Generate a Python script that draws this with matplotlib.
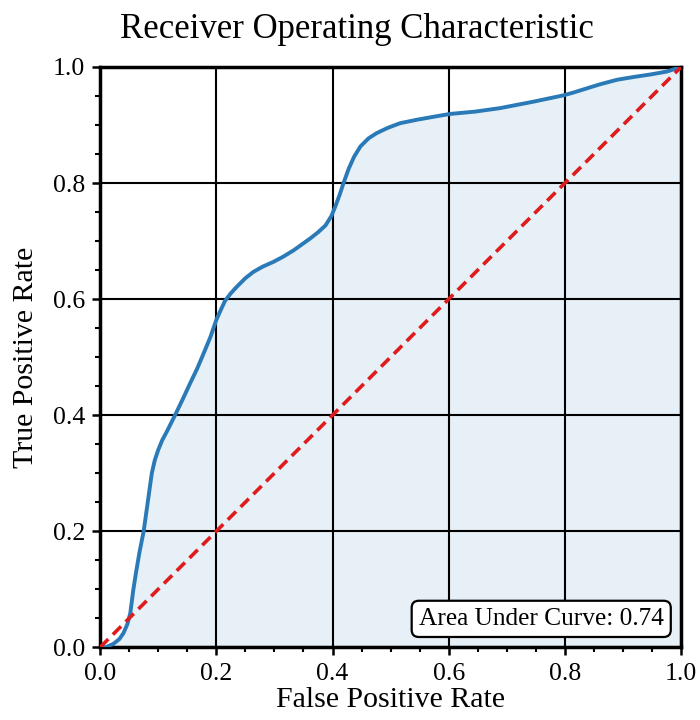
import matplotlib
matplotlib.use("Agg")
import matplotlib.pyplot as plt
from matplotlib.ticker import MultipleLocator

# ROC curve points (false positive rate, true positive rate)
fpr = [0, 0.01, 0.023, 0.033, 0.04, 0.047, 0.052, 0.057, 0.062, 0.068, 0.075,
       0.082, 0.089, 0.094, 0.1, 0.107, 0.115, 0.122, 0.129, 0.142, 0.155,
       0.167, 0.178, 0.19, 0.2, 0.208, 0.215, 0.225, 0.235, 0.25, 0.264,
       0.28, 0.298, 0.315, 0.333, 0.347, 0.361, 0.375, 0.388, 0.398, 0.405,
       0.412, 0.419, 0.428, 0.437, 0.448, 0.462, 0.476, 0.495, 0.516, 0.545,
       0.573, 0.602, 0.645, 0.688, 0.745, 0.797, 0.815, 0.831, 0.86, 0.89,
       0.92, 0.947, 0.975, 1.0]
tpr = [0, 0.0, 0.006, 0.014, 0.024, 0.04, 0.059, 0.098, 0.13, 0.165, 0.2,
       0.25, 0.30, 0.322, 0.34, 0.357, 0.372, 0.386, 0.40, 0.427, 0.455,
       0.48, 0.506, 0.535, 0.564, 0.582, 0.597, 0.61, 0.621, 0.636, 0.647,
       0.656, 0.664, 0.673, 0.684, 0.694, 0.704, 0.715, 0.727, 0.743, 0.76,
       0.779, 0.80, 0.825, 0.845, 0.863, 0.877, 0.886, 0.895, 0.903, 0.909,
       0.914, 0.919, 0.923, 0.929, 0.940, 0.951, 0.956, 0.961, 0.970, 0.978,
       0.983, 0.987, 0.992, 1.0]
auc = 0.74
ticks = [0.0, 0.2, 0.4, 0.6, 0.8, 1.0]

plt.rcParams['font.family'] = ['Liberation Serif', 'DejaVu Serif']

fig = plt.figure(figsize=(7, 7.2), dpi=100)
ax = fig.add_axes([0.143, 0.101, 0.830, 0.806])

ax.fill_between(fpr, tpr, 0, color='#1f77b4', alpha=0.11, lw=0, zorder=1)
ax.plot(fpr, tpr, color='#2a7ab8', lw=2.8, zorder=3,
        solid_joinstyle='round', solid_capstyle='round')
ax.plot([0, 1], [0, 1], color='#e01b1b', lw=2.6, ls=(0, (3.2, 1.8)), zorder=4)

ax.set_xlim(0, 1)
ax.set_ylim(0, 1)
ax.set_xticks(ticks)
ax.set_yticks(ticks)
ax.xaxis.set_minor_locator(MultipleLocator(0.05))
ax.yaxis.set_minor_locator(MultipleLocator(0.05))
ax.tick_params(which='major', length=6, width=1.8, labelsize=18.5, pad=5)
ax.tick_params(which='minor', length=3.5, width=1.5)
ax.grid(True, which='major', color='black', lw=1.5, zorder=2)
ax.set_axisbelow(False)
for sp in ax.spines.values():
    sp.set_linewidth(2.5)

ax.set_xlabel('False Positive Rate', fontsize=21.5, labelpad=2)
ax.set_ylabel('True Positive Rate', fontsize=21.5, labelpad=10)
fig.text(0.51, 1 - 38 / 720, 'Receiver Operating Characteristic',
         ha='center', va='baseline', fontsize=25)

ax.text(0.97, 0.03, f'Area Under Curve: {auc:.2f}', transform=ax.transAxes,
        ha='right', va='bottom', fontsize=18.3, zorder=6,
        bbox=dict(boxstyle='round,pad=0.28', fc='white', ec='black', lw=1.6))

fig.savefig('out.png', dpi=100)
